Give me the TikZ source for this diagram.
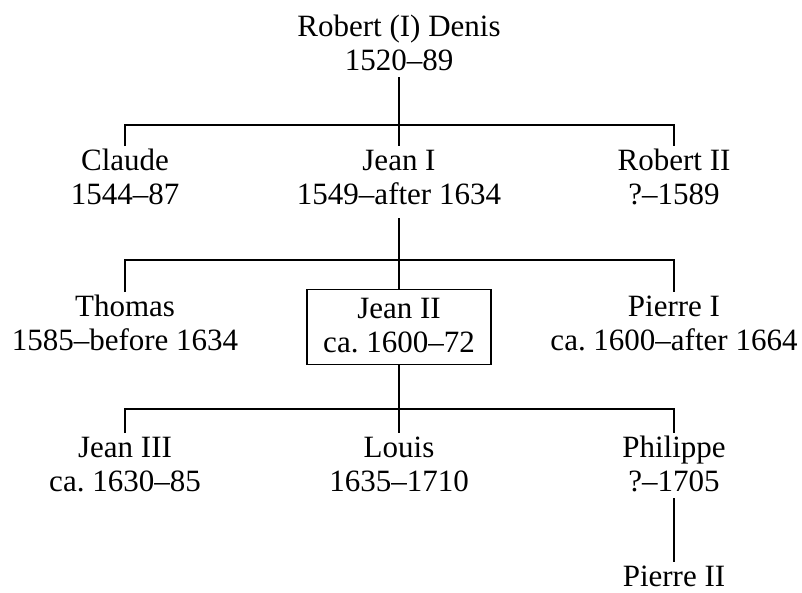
\documentclass[tikz,border=0pt]{standalone}
\usepackage{fontspec}
\setmainfont{Liberation Serif}
\frenchspacing
\newcommand{\lnstrut}{\rule[-7pt]{0pt}{31pt}}
\tikzset{
  person/.style={font=\fontsize{31}{34}\selectfont, align=center, inner sep=0pt, anchor=north},
  boxed/.style={person, draw, line width=1.1pt, minimum width=184pt, minimum height=75pt, inner sep=0pt},
  link/.style={line width=1.1pt}
}
\begin{document}
\begin{tikzpicture}[x=1pt,y=-1pt]
\useasboundingbox (0,0) rectangle (802,592);
% generation 1
\node[person] (robert) at (399,12) {\lnstrut Robert (I) Denis\\\lnstrut 1520–89};
% generation 2
\node[person] (claude) at (125,146) {\lnstrut Claude\\\lnstrut 1544–87};
\node[person] (jean1) at (399,146) {\lnstrut Jean I\\\lnstrut 1549–after 1634};
\node[person] (robert2) at (674,146) {\lnstrut Robert II\\\lnstrut ?–1589};
% generation 3
\node[person] (thomas) at (125,292) {\lnstrut Thomas\\\lnstrut 1585–before 1634};
\node[boxed] (jean2) at (399,289) {\lnstrut Jean II\\\lnstrut ca.\ 1600–72};
\node[person] (pierre1) at (674,292) {\lnstrut Pierre I\\\lnstrut ca.\ 1600–after 1664};
% generation 4
\node[person] (jean3) at (125,433) {\lnstrut Jean III\\\lnstrut ca.\ 1630–85};
\node[person] (louis) at (399,433) {\lnstrut Louis\\\lnstrut 1635–1710};
\node[person] (philippe) at (674,433) {\lnstrut Philippe\\\lnstrut ?–1705};
% generation 5
\node[person, anchor=base] (pierre2) at (674,586) {\lnstrut Pierre II};
% bars
\coordinate (b1) at (399,125);
\coordinate (b2) at (399,260);
\coordinate (b3) at (399,409);
\draw[link] (robert.south) -- (jean1.north);
\draw[link] (claude.north) |- (b1) -| (robert2.north);
\draw[link, shorten <=7pt] (jean1.south) -- (jean2.north);
\draw[link] (thomas.north) |- (b2) -| (pierre1.north);
\draw[link] (jean2.south) -- (louis.north);
\draw[link] (jean3.north) |- (b3) -| (philippe.north);
\draw[link] (philippe.south) -- (pierre2.north);
\end{tikzpicture}
\end{document}
